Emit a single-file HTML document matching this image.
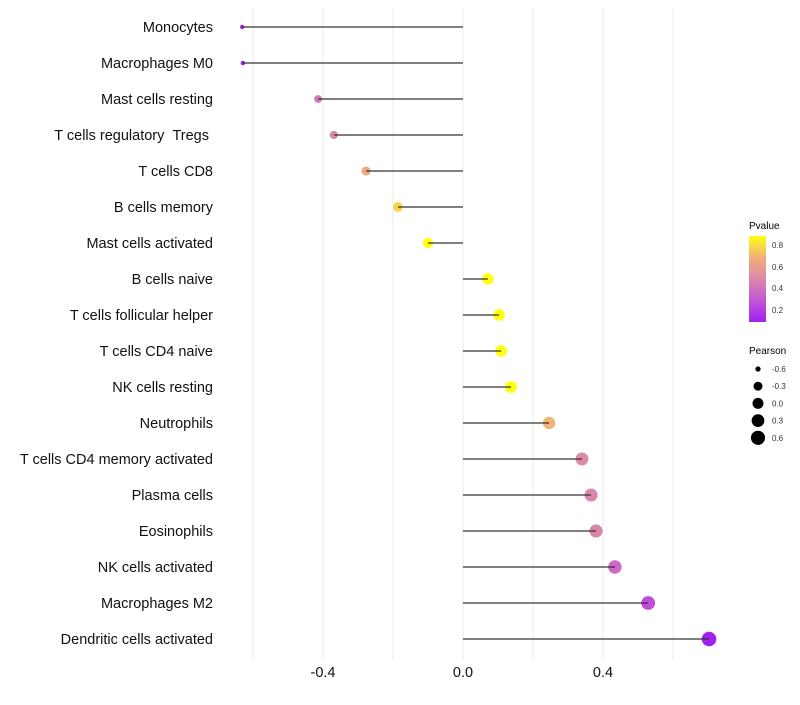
<!DOCTYPE html>
<html><head><meta charset="utf-8"><style>
body{margin:0;background:#fff;font-family:"Liberation Sans",sans-serif}
svg text{font-family:"Liberation Sans",sans-serif}
</style></head><body>
<svg id="chart" width="800" height="700" viewBox="0 0 800 700" xmlns="http://www.w3.org/2000/svg">
<defs><linearGradient id="pgrad" x1="0" y1="1" x2="0" y2="0">
<stop offset="0" stop-color="#A020F0"/><stop offset="0.25" stop-color="#C455D8"/><stop offset="0.5" stop-color="#DC88A8"/><stop offset="0.75" stop-color="#F0B07A"/><stop offset="1" stop-color="#FFFF10"/></linearGradient></defs>
<g id="grid"></g><g id="marks"></g><g id="labels"></g>
<g>
<text x="749" y="229" font-size="10" fill="#000">Pvalue</text>
<rect x="749" y="236" width="17" height="86" fill="url(#pgrad)"/>
<text x="772" y="248" font-size="8" fill="#333">0.8</text>
<text x="772" y="270" font-size="8" fill="#333">0.6</text>
<text x="772" y="291" font-size="8" fill="#333">0.4</text>
<text x="772" y="313" font-size="8" fill="#333">0.2</text>
</g>
<g id="sizeleg">
<text x="749" y="354" font-size="10" fill="#000">Pearson</text>
</g>
</svg>
<script>
const categories=["Monocytes","Macrophages M0","Mast cells resting","T cells regulatory\u00a0\u00a0Tregs\u00a0","T cells CD8","B cells memory","Mast cells activated","B cells naive","T cells follicular helper","T cells CD4 naive","NK cells resting","Neutrophils","T cells CD4 memory activated","Plasma cells","Eosinophils","NK cells activated","Macrophages M2","Dendritic cells activated"];
const pearson=[-0.631,-0.629,-0.414,-0.369,-0.277,-0.186,-0.1,0.071,0.103,0.109,0.137,0.246,0.34,0.366,0.38,0.434,0.529,0.703];
const pvalues=[0.03,0.03,0.42,0.48,0.64,0.76,0.93,0.95,0.94,0.94,0.92,0.68,0.5,0.47,0.47,0.36,0.25,0.05];
const xTicks=[-0.4,0,0.4];
const gridVals=[-0.6,-0.4,-0.2,0,0.2,0.4,0.6];
const sizeLegend=[-0.6,-0.3,0.0,0.3,0.6];
const NS="http://www.w3.org/2000/svg";
const x=v=>463+v*350;
const y=i=>27+i*36;
const r=v=>1.5+5.8*Math.sqrt(Math.max(0,(v+0.65)/1.35));
const stops=[[0.08,[160,32,240]],[0.28,[196,85,216]],[0.48,[220,136,168]],[0.67,[240,176,122]],[0.87,[255,255,16]]];
function col(p){if(p<=stops[0][0])return `rgb(${stops[0][1]})`;for(let k=1;k<stops.length;k++){if(p<=stops[k][0]){const a=stops[k-1],b=stops[k],t=(p-a[0])/(b[0]-a[0]);return `rgb(${a[1].map((c,j)=>Math.round(c+(b[1][j]-c)*t))})`;}}return `rgb(${stops[stops.length-1][1]})`;}
function mk(tag,at,parent){const e=document.createElementNS(NS,tag);for(const k in at)e.setAttribute(k,at[k]);parent.appendChild(e);return e;}
const grid=document.getElementById('grid'),marks=document.getElementById('marks'),labels=document.getElementById('labels');
gridVals.forEach(v=>{const l=mk('line',{x1:x(v),x2:x(v),y1:8,y2:660,stroke:'#ebebeb','stroke-width':1},grid);

});
categories.forEach((c,i)=>{
const g=mk('g',{},marks);


const d=mk('circle',{cx:x(pearson[i]),cy:y(i),r:r(pearson[i]),fill:col(pvalues[i])},g);


const l=mk('line',{x1:x(0),x2:x(pearson[i]),y1:y(i),y2:y(i),stroke:'#333','stroke-width':1.2},g);


const t=mk('text',{x:213,y:y(i)+5,'text-anchor':'end','font-size':14.5,fill:'#111'},labels);
t.textContent=c;


});
xTicks.forEach(v=>{const t=mk('text',{x:x(v),y:677,'text-anchor':'middle','font-size':14.5,fill:'#111'},labels);
t.textContent=v===0?'0.0':v.toFixed(1);

});
const sl=document.getElementById('sizeleg');
sizeLegend.forEach((v,k)=>{const cy=369+k*17.2;
const c=mk('circle',{cx:758,cy:cy,r:r(v),fill:'#000'},sl);


const t=mk('text',{x:772,y:cy+3,'font-size':8,fill:'#333'},sl);
t.textContent=v.toFixed(1);

});
</script>
</body></html>
